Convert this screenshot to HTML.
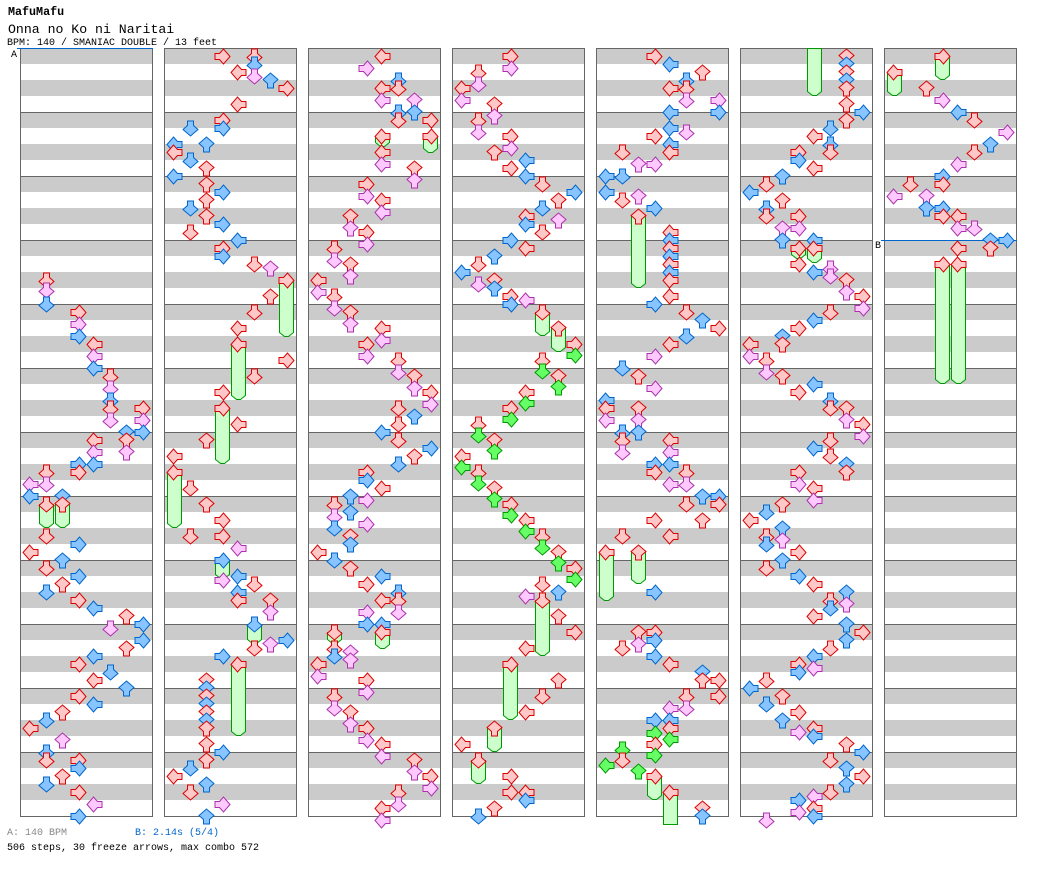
<!DOCTYPE html>
<html><head><meta charset="utf-8"><style>
html,body{margin:0;padding:0;background:#fff;}
svg{display:block;font-family:"Liberation Mono",monospace;}
.r{fill:#ffc8c8;stroke:#dd0000}
.b{fill:#88c4ff;stroke:#0066cc}
.p{fill:#ffc8ff;stroke:#aa33aa}
.g{fill:#66ff66;stroke:#009900}
.f{fill:#ccffcc;stroke:#009900;stroke-width:1}
use{stroke-width:1}
</style></head><body>
<svg width="1040" height="876" viewBox="0 0 1040 876" xmlns="http://www.w3.org/2000/svg">
<defs>
<polygon id="D" points="-3,-7.5 3,-7.5 3,-3 7.5,1 0,7.5 -7.5,1 -3,-3"/>
<polygon id="U" points="-3,7.5 3,7.5 3,3 7.5,-1 0,-7.5 -7.5,-1 -3,3"/>
<polygon id="R" points="-7.5,3 -7.5,-3 -3,-3 1,-7.5 7.5,0 1,7.5 -3,3"/>
<polygon id="L" points="7.5,3 7.5,-3 3,-3 -1,-7.5 -7.5,0 -1,7.5 3,3"/>
<g id="col">
<rect x="20.5" y="48.5" width="132" height="768" fill="#fff"/>
<g fill="#cbcbcb">
<rect x="21" y="48" width="131" height="16"/>
<rect x="21" y="80" width="131" height="16"/>
<rect x="21" y="112" width="131" height="16"/>
<rect x="21" y="144" width="131" height="16"/>
<rect x="21" y="176" width="131" height="16"/>
<rect x="21" y="208" width="131" height="16"/>
<rect x="21" y="240" width="131" height="16"/>
<rect x="21" y="272" width="131" height="16"/>
<rect x="21" y="304" width="131" height="16"/>
<rect x="21" y="336" width="131" height="16"/>
<rect x="21" y="368" width="131" height="16"/>
<rect x="21" y="400" width="131" height="16"/>
<rect x="21" y="432" width="131" height="16"/>
<rect x="21" y="464" width="131" height="16"/>
<rect x="21" y="496" width="131" height="16"/>
<rect x="21" y="528" width="131" height="16"/>
<rect x="21" y="560" width="131" height="16"/>
<rect x="21" y="592" width="131" height="16"/>
<rect x="21" y="624" width="131" height="16"/>
<rect x="21" y="656" width="131" height="16"/>
<rect x="21" y="688" width="131" height="16"/>
<rect x="21" y="720" width="131" height="16"/>
<rect x="21" y="752" width="131" height="16"/>
<rect x="21" y="784" width="131" height="16"/>
</g>
<path d="M21 112.5H152M21 176.5H152M21 240.5H152M21 304.5H152M21 368.5H152M21 432.5H152M21 496.5H152M21 560.5H152M21 624.5H152M21 688.5H152M21 752.5H152" stroke="#666" fill="none"/>
<rect x="20.5" y="48.5" width="132" height="768" fill="none" stroke="#666"/>
</g>
</defs>
<rect width="1040" height="876" fill="#fff"/>
<use href="#col"/><use href="#col" x="144"/><use href="#col" x="288"/><use href="#col" x="432"/><use href="#col" x="576"/><use href="#col" x="720"/><use href="#col" x="864"/>
<line x1="17" y1="48.5" x2="153" y2="48.5" stroke="#0066cc"/>
<line x1="881" y1="240.5" x2="1017" y2="240.5" stroke="#0066cc"/>

<text x="8" y="15" font-weight="bold" font-size="11.7">MafuMafu</text>
<text x="8" y="33" font-size="13.2">Onna no Ko ni Naritai</text>
<text x="7" y="45" font-size="10">BPM: 140 / SMANIAC DOUBLE / 13 feet</text>
<text x="11" y="57" font-size="10">A</text>
<text x="875" y="248" font-size="10">B</text>
<text x="7" y="835" font-size="10" fill="#888888">A: 140 BPM</text>
<text x="135" y="835" font-size="10" fill="#0066cc">B: 2.14s (5/4)</text>
<text x="7" y="850" font-size="10">506 steps, 30 freeze arrows, max combo 572</text>

<!-- Column 1 -->
<g transform="translate(0,0.5)">
<path class="f" d="M39.5 504V523L44.5 527H48.5L53.5 523V504Z"/>
<path class="f" d="M55.5 504V523L60.5 527H64.5L69.5 523V504Z"/>
<use href="#D" x="46.5" y="280" class="r"/>
<use href="#D" x="46.5" y="290" class="p"/>
<use href="#D" x="46.5" y="304" class="b"/>
<use href="#R" x="78.5" y="312" class="r"/>
<use href="#R" x="78.5" y="324" class="p"/>
<use href="#R" x="78.5" y="336" class="b"/>
<use href="#L" x="94.5" y="344" class="r"/>
<use href="#L" x="94.5" y="356" class="p"/>
<use href="#L" x="94.5" y="368" class="b"/>
<use href="#D" x="110.5" y="376" class="r"/>
<use href="#D" x="110.5" y="388" class="p"/>
<use href="#D" x="110.5" y="400" class="b"/>
<use href="#D" x="110.5" y="408" class="r"/>
<use href="#R" x="142.5" y="408" class="r"/>
<use href="#D" x="110.5" y="420" class="p"/>
<use href="#R" x="142.5" y="420" class="p"/>
<use href="#R" x="142.5" y="432" class="b"/>
<use href="#U" x="126.5" y="432" class="b"/>
<use href="#U" x="126.5" y="440" class="r"/>
<use href="#L" x="94.5" y="440" class="r"/>
<use href="#U" x="126.5" y="452" class="p"/>
<use href="#L" x="94.5" y="452" class="p"/>
<use href="#L" x="94.5" y="464" class="b"/>
<use href="#R" x="78.5" y="464" class="b"/>
<use href="#R" x="78.5" y="472" class="r"/>
<use href="#D" x="46.5" y="472" class="r"/>
<use href="#D" x="46.5" y="484" class="p"/>
<use href="#L" x="30.5" y="484" class="p"/>
<use href="#L" x="30.5" y="496" class="b"/>
<use href="#U" x="62.5" y="496" class="b"/>
<use href="#D" x="46.5" y="504" class="r"/>
<use href="#U" x="62.5" y="504" class="r"/>
<use href="#D" x="46.5" y="536" class="r"/>
<use href="#R" x="78.5" y="544" class="b"/>
<use href="#L" x="30.5" y="552" class="r"/>
<use href="#U" x="62.5" y="560" class="b"/>
<use href="#D" x="46.5" y="568" class="r"/>
<use href="#R" x="78.5" y="576" class="b"/>
<use href="#U" x="62.5" y="584" class="r"/>
<use href="#D" x="46.5" y="592" class="b"/>
<use href="#R" x="78.5" y="600" class="r"/>
<use href="#L" x="94.5" y="608" class="b"/>
<use href="#U" x="126.5" y="616" class="r"/>
<use href="#R" x="142.5" y="624" class="b"/>
<use href="#D" x="110.5" y="628" class="p"/>
<use href="#R" x="142.5" y="640" class="b"/>
<use href="#U" x="126.5" y="648" class="r"/>
<use href="#L" x="94.5" y="656" class="b"/>
<use href="#R" x="78.5" y="664" class="r"/>
<use href="#D" x="110.5" y="672" class="b"/>
<use href="#L" x="94.5" y="680" class="r"/>
<use href="#U" x="126.5" y="688" class="b"/>
<use href="#R" x="78.5" y="696" class="r"/>
<use href="#L" x="94.5" y="704" class="b"/>
<use href="#U" x="62.5" y="712" class="r"/>
<use href="#D" x="46.5" y="720" class="b"/>
<use href="#L" x="30.5" y="728" class="r"/>
<use href="#U" x="62.5" y="740" class="p"/>
<use href="#D" x="46.5" y="752" class="b"/>
<use href="#D" x="46.5" y="760" class="r"/>
<use href="#R" x="78.5" y="760" class="r"/>
<use href="#R" x="78.5" y="768" class="b"/>
<use href="#U" x="62.5" y="776" class="r"/>
<use href="#D" x="46.5" y="784" class="b"/>
<use href="#R" x="78.5" y="792" class="r"/>
<use href="#L" x="94.5" y="804" class="p"/>
<use href="#R" x="78.5" y="816" class="b"/>
</g>

<!-- Column 2 -->
<g transform="translate(144,0.5)">
<path class="f" d="M135.5 280V332L140.5 336H144.5L149.5 332V280Z"/>
<path class="f" d="M87.5 344V395L92.5 399H96.5L101.5 395V344Z"/>
<path class="f" d="M71.5 408V459L76.5 463H80.5L85.5 459V408Z"/>
<path class="f" d="M23.5 472V523L28.5 527H32.5L37.5 523V472Z"/>
<path class="f" d="M71.5 560V574L76.5 578H80.5L85.5 574V560Z"/>
<path class="f" d="M103.5 624V639L108.5 643H112.5L117.5 639V624Z"/>
<path class="f" d="M87.5 664V731L92.5 735H96.5L101.5 731V664Z"/>
<use href="#R" x="78.5" y="56" class="r"/>
<use href="#D" x="110.5" y="56" class="r"/>
<use href="#D" x="110.5" y="64" class="b"/>
<use href="#L" x="94.5" y="72" class="r"/>
<use href="#D" x="110.5" y="76" class="p"/>
<use href="#U" x="126.5" y="80" class="b"/>
<use href="#R" x="142.5" y="88" class="r"/>
<use href="#L" x="94.5" y="104" class="r"/>
<use href="#R" x="78.5" y="120" class="r"/>
<use href="#R" x="78.5" y="128" class="b"/>
<use href="#D" x="46.5" y="128" class="b"/>
<use href="#L" x="30.5" y="144" class="b"/>
<use href="#U" x="62.5" y="144" class="b"/>
<use href="#L" x="30.5" y="152" class="r"/>
<use href="#D" x="46.5" y="160" class="b"/>
<use href="#U" x="62.5" y="168" class="r"/>
<use href="#L" x="30.5" y="176" class="b"/>
<use href="#U" x="62.5" y="184" class="r"/>
<use href="#R" x="78.5" y="192" class="b"/>
<use href="#U" x="62.5" y="200" class="r"/>
<use href="#D" x="46.5" y="208" class="b"/>
<use href="#U" x="62.5" y="216" class="r"/>
<use href="#R" x="78.5" y="224" class="b"/>
<use href="#D" x="46.5" y="232" class="r"/>
<use href="#L" x="94.5" y="240" class="b"/>
<use href="#R" x="78.5" y="248" class="r"/>
<use href="#R" x="78.5" y="256" class="b"/>
<use href="#D" x="110.5" y="264" class="r"/>
<use href="#U" x="126.5" y="268" class="p"/>
<use href="#R" x="142.5" y="280" class="r"/>
<use href="#U" x="126.5" y="296" class="r"/>
<use href="#D" x="110.5" y="312" class="r"/>
<use href="#L" x="94.5" y="328" class="r"/>
<use href="#L" x="94.5" y="344" class="r"/>
<use href="#R" x="142.5" y="360" class="r"/>
<use href="#D" x="110.5" y="376" class="r"/>
<use href="#R" x="78.5" y="392" class="r"/>
<use href="#R" x="78.5" y="408" class="r"/>
<use href="#L" x="94.5" y="424" class="r"/>
<use href="#U" x="62.5" y="440" class="r"/>
<use href="#L" x="30.5" y="456" class="r"/>
<use href="#L" x="30.5" y="472" class="r"/>
<use href="#D" x="46.5" y="488" class="r"/>
<use href="#U" x="62.5" y="504" class="r"/>
<use href="#R" x="78.5" y="520" class="r"/>
<use href="#D" x="46.5" y="536" class="r"/>
<use href="#R" x="78.5" y="536" class="r"/>
<use href="#L" x="94.5" y="548" class="p"/>
<use href="#R" x="78.5" y="560" class="b"/>
<use href="#L" x="94.5" y="576" class="b"/>
<use href="#R" x="78.5" y="580" class="p"/>
<use href="#D" x="110.5" y="584" class="r"/>
<use href="#L" x="94.5" y="592" class="b"/>
<use href="#L" x="94.5" y="600" class="r"/>
<use href="#U" x="126.5" y="600" class="r"/>
<use href="#U" x="126.5" y="612" class="p"/>
<use href="#D" x="110.5" y="624" class="b"/>
<use href="#R" x="142.5" y="640" class="b"/>
<use href="#U" x="126.5" y="644" class="p"/>
<use href="#D" x="110.5" y="648" class="r"/>
<use href="#R" x="78.5" y="656" class="b"/>
<use href="#L" x="94.5" y="664" class="r"/>
<use href="#U" x="62.5" y="680" class="r"/>
<use href="#U" x="62.5" y="688" class="b"/>
<use href="#U" x="62.5" y="696" class="r"/>
<use href="#U" x="62.5" y="704" class="b"/>
<use href="#U" x="62.5" y="712" class="r"/>
<use href="#U" x="62.5" y="720" class="b"/>
<use href="#U" x="62.5" y="728" class="r"/>
<use href="#U" x="62.5" y="744" class="r"/>
<use href="#R" x="78.5" y="752" class="b"/>
<use href="#U" x="62.5" y="760" class="r"/>
<use href="#D" x="46.5" y="768" class="b"/>
<use href="#L" x="30.5" y="776" class="r"/>
<use href="#U" x="62.5" y="784" class="b"/>
<use href="#D" x="46.5" y="792" class="r"/>
<use href="#R" x="78.5" y="804" class="p"/>
<use href="#U" x="62.5" y="816" class="b"/>
</g>

<!-- Column 3 -->
<g transform="translate(288,0.5)">
<path class="f" d="M87.5 136V142L92.5 146H96.5L101.5 142V136Z"/>
<path class="f" d="M135.5 136V148L140.5 152H144.5L149.5 148V136Z"/>
<path class="f" d="M87.5 632V644L92.5 648H96.5L101.5 644V632Z"/>
<path class="f" d="M39.5 632V639L44.5 643H48.5L53.5 639V632Z"/>
<use href="#L" x="94.5" y="56" class="r"/>
<use href="#R" x="78.5" y="68" class="p"/>
<use href="#D" x="110.5" y="80" class="b"/>
<use href="#D" x="110.5" y="88" class="r"/>
<use href="#L" x="94.5" y="88" class="r"/>
<use href="#L" x="94.5" y="100" class="p"/>
<use href="#U" x="126.5" y="100" class="p"/>
<use href="#D" x="110.5" y="112" class="b"/>
<use href="#U" x="126.5" y="112" class="b"/>
<use href="#D" x="110.5" y="120" class="r"/>
<use href="#R" x="142.5" y="120" class="r"/>
<use href="#L" x="94.5" y="136" class="r"/>
<use href="#R" x="142.5" y="136" class="r"/>
<use href="#L" x="94.5" y="152" class="r"/>
<use href="#L" x="94.5" y="164" class="p"/>
<use href="#U" x="126.5" y="168" class="r"/>
<use href="#U" x="126.5" y="180" class="p"/>
<use href="#R" x="78.5" y="184" class="r"/>
<use href="#R" x="78.5" y="196" class="p"/>
<use href="#L" x="94.5" y="200" class="r"/>
<use href="#L" x="94.5" y="212" class="p"/>
<use href="#U" x="62.5" y="216" class="r"/>
<use href="#U" x="62.5" y="228" class="p"/>
<use href="#R" x="78.5" y="232" class="r"/>
<use href="#R" x="78.5" y="244" class="p"/>
<use href="#D" x="46.5" y="248" class="r"/>
<use href="#D" x="46.5" y="260" class="p"/>
<use href="#U" x="62.5" y="264" class="r"/>
<use href="#U" x="62.5" y="276" class="p"/>
<use href="#L" x="30.5" y="280" class="r"/>
<use href="#L" x="30.5" y="292" class="p"/>
<use href="#D" x="46.5" y="296" class="r"/>
<use href="#D" x="46.5" y="308" class="p"/>
<use href="#U" x="62.5" y="312" class="r"/>
<use href="#U" x="62.5" y="324" class="p"/>
<use href="#L" x="94.5" y="328" class="r"/>
<use href="#L" x="94.5" y="340" class="p"/>
<use href="#R" x="78.5" y="344" class="r"/>
<use href="#R" x="78.5" y="356" class="p"/>
<use href="#D" x="110.5" y="360" class="r"/>
<use href="#D" x="110.5" y="372" class="p"/>
<use href="#U" x="126.5" y="376" class="r"/>
<use href="#U" x="126.5" y="388" class="p"/>
<use href="#R" x="142.5" y="392" class="r"/>
<use href="#R" x="142.5" y="404" class="p"/>
<use href="#D" x="110.5" y="408" class="r"/>
<use href="#U" x="126.5" y="416" class="b"/>
<use href="#D" x="110.5" y="424" class="r"/>
<use href="#L" x="94.5" y="432" class="b"/>
<use href="#D" x="110.5" y="440" class="r"/>
<use href="#R" x="142.5" y="448" class="b"/>
<use href="#U" x="126.5" y="456" class="r"/>
<use href="#D" x="110.5" y="464" class="b"/>
<use href="#R" x="78.5" y="472" class="r"/>
<use href="#R" x="78.5" y="480" class="b"/>
<use href="#L" x="94.5" y="488" class="r"/>
<use href="#U" x="62.5" y="496" class="b"/>
<use href="#R" x="78.5" y="500" class="p"/>
<use href="#D" x="46.5" y="504" class="r"/>
<use href="#U" x="62.5" y="512" class="b"/>
<use href="#D" x="46.5" y="516" class="p"/>
<use href="#R" x="78.5" y="524" class="p"/>
<use href="#D" x="46.5" y="528" class="b"/>
<use href="#U" x="62.5" y="536" class="r"/>
<use href="#U" x="62.5" y="544" class="b"/>
<use href="#L" x="30.5" y="552" class="r"/>
<use href="#D" x="46.5" y="560" class="b"/>
<use href="#U" x="62.5" y="568" class="r"/>
<use href="#L" x="94.5" y="576" class="b"/>
<use href="#R" x="78.5" y="584" class="r"/>
<use href="#D" x="110.5" y="592" class="b"/>
<use href="#L" x="94.5" y="600" class="r"/>
<use href="#D" x="110.5" y="600" class="r"/>
<use href="#R" x="78.5" y="612" class="p"/>
<use href="#D" x="110.5" y="612" class="p"/>
<use href="#R" x="78.5" y="624" class="b"/>
<use href="#L" x="94.5" y="624" class="b"/>
<use href="#L" x="94.5" y="632" class="r"/>
<use href="#D" x="46.5" y="632" class="r"/>
<use href="#D" x="46.5" y="648" class="r"/>
<use href="#U" x="62.5" y="652" class="p"/>
<use href="#D" x="46.5" y="656" class="b"/>
<use href="#U" x="62.5" y="660" class="p"/>
<use href="#L" x="30.5" y="664" class="r"/>
<use href="#L" x="30.5" y="676" class="p"/>
<use href="#R" x="78.5" y="680" class="r"/>
<use href="#R" x="78.5" y="692" class="p"/>
<use href="#D" x="46.5" y="696" class="r"/>
<use href="#D" x="46.5" y="708" class="p"/>
<use href="#U" x="62.5" y="712" class="r"/>
<use href="#U" x="62.5" y="724" class="p"/>
<use href="#R" x="78.5" y="728" class="r"/>
<use href="#R" x="78.5" y="740" class="p"/>
<use href="#L" x="94.5" y="744" class="r"/>
<use href="#L" x="94.5" y="756" class="p"/>
<use href="#U" x="126.5" y="760" class="r"/>
<use href="#U" x="126.5" y="772" class="p"/>
<use href="#R" x="142.5" y="776" class="r"/>
<use href="#R" x="142.5" y="788" class="p"/>
<use href="#D" x="110.5" y="792" class="r"/>
<use href="#D" x="110.5" y="804" class="p"/>
<use href="#L" x="94.5" y="808" class="r"/>
<use href="#L" x="94.5" y="820" class="p"/>
</g>

<!-- Column 4 -->
<g transform="translate(432,0.5)">
<path class="f" d="M103.5 312V331L108.5 335H112.5L117.5 331V312Z"/>
<path class="f" d="M119.5 328V347L124.5 351H128.5L133.5 347V328Z"/>
<path class="f" d="M103.5 600V651L108.5 655H112.5L117.5 651V600Z"/>
<path class="f" d="M71.5 664V715L76.5 719H80.5L85.5 715V664Z"/>
<path class="f" d="M55.5 728V747L60.5 751H64.5L69.5 747V728Z"/>
<path class="f" d="M39.5 760V779L44.5 783H48.5L53.5 779V760Z"/>
<use href="#R" x="78.5" y="56" class="r"/>
<use href="#R" x="78.5" y="68" class="p"/>
<use href="#D" x="46.5" y="72" class="r"/>
<use href="#D" x="46.5" y="84" class="p"/>
<use href="#L" x="30.5" y="88" class="r"/>
<use href="#L" x="30.5" y="100" class="p"/>
<use href="#U" x="62.5" y="104" class="r"/>
<use href="#U" x="62.5" y="116" class="p"/>
<use href="#D" x="46.5" y="120" class="r"/>
<use href="#D" x="46.5" y="132" class="p"/>
<use href="#R" x="78.5" y="136" class="r"/>
<use href="#R" x="78.5" y="148" class="p"/>
<use href="#U" x="62.5" y="152" class="r"/>
<use href="#L" x="94.5" y="160" class="b"/>
<use href="#R" x="78.5" y="168" class="r"/>
<use href="#L" x="94.5" y="176" class="b"/>
<use href="#D" x="110.5" y="184" class="r"/>
<use href="#R" x="142.5" y="192" class="b"/>
<use href="#U" x="126.5" y="200" class="r"/>
<use href="#D" x="110.5" y="208" class="b"/>
<use href="#L" x="94.5" y="216" class="r"/>
<use href="#U" x="126.5" y="220" class="p"/>
<use href="#L" x="94.5" y="224" class="b"/>
<use href="#D" x="110.5" y="232" class="r"/>
<use href="#R" x="78.5" y="240" class="b"/>
<use href="#L" x="94.5" y="248" class="r"/>
<use href="#U" x="62.5" y="256" class="b"/>
<use href="#D" x="46.5" y="264" class="r"/>
<use href="#L" x="30.5" y="272" class="b"/>
<use href="#U" x="62.5" y="280" class="r"/>
<use href="#D" x="46.5" y="284" class="p"/>
<use href="#U" x="62.5" y="288" class="b"/>
<use href="#R" x="78.5" y="296" class="r"/>
<use href="#L" x="94.5" y="300" class="p"/>
<use href="#R" x="78.5" y="304" class="b"/>
<use href="#D" x="110.5" y="312" class="r"/>
<use href="#U" x="126.5" y="328" class="r"/>
<use href="#R" x="142.5" y="344" class="r"/>
<use href="#R" x="142.5" y="355" class="g"/>
<use href="#D" x="110.5" y="360" class="r"/>
<use href="#D" x="110.5" y="371" class="g"/>
<use href="#U" x="126.5" y="376" class="r"/>
<use href="#U" x="126.5" y="387" class="g"/>
<use href="#L" x="94.5" y="392" class="r"/>
<use href="#L" x="94.5" y="403" class="g"/>
<use href="#R" x="78.5" y="408" class="r"/>
<use href="#R" x="78.5" y="419" class="g"/>
<use href="#D" x="46.5" y="424" class="r"/>
<use href="#D" x="46.5" y="435" class="g"/>
<use href="#U" x="62.5" y="440" class="r"/>
<use href="#U" x="62.5" y="451" class="g"/>
<use href="#L" x="30.5" y="456" class="r"/>
<use href="#L" x="30.5" y="467" class="g"/>
<use href="#D" x="46.5" y="472" class="r"/>
<use href="#D" x="46.5" y="483" class="g"/>
<use href="#U" x="62.5" y="488" class="r"/>
<use href="#U" x="62.5" y="499" class="g"/>
<use href="#R" x="78.5" y="504" class="r"/>
<use href="#R" x="78.5" y="515" class="g"/>
<use href="#L" x="94.5" y="520" class="r"/>
<use href="#L" x="94.5" y="531" class="g"/>
<use href="#D" x="110.5" y="536" class="r"/>
<use href="#D" x="110.5" y="547" class="g"/>
<use href="#U" x="126.5" y="552" class="r"/>
<use href="#U" x="126.5" y="563" class="g"/>
<use href="#R" x="142.5" y="568" class="r"/>
<use href="#R" x="142.5" y="579" class="g"/>
<use href="#D" x="110.5" y="584" class="r"/>
<use href="#U" x="126.5" y="592" class="b"/>
<use href="#L" x="94.5" y="596" class="p"/>
<use href="#D" x="110.5" y="600" class="r"/>
<use href="#U" x="126.5" y="616" class="r"/>
<use href="#R" x="142.5" y="632" class="r"/>
<use href="#L" x="94.5" y="648" class="r"/>
<use href="#R" x="78.5" y="664" class="r"/>
<use href="#U" x="126.5" y="680" class="r"/>
<use href="#D" x="110.5" y="696" class="r"/>
<use href="#L" x="94.5" y="712" class="r"/>
<use href="#U" x="62.5" y="728" class="r"/>
<use href="#L" x="30.5" y="744" class="r"/>
<use href="#D" x="46.5" y="760" class="r"/>
<use href="#R" x="78.5" y="776" class="r"/>
<use href="#R" x="78.5" y="792" class="r"/>
<use href="#L" x="94.5" y="792" class="r"/>
<use href="#L" x="94.5" y="800" class="b"/>
<use href="#U" x="62.5" y="808" class="r"/>
<use href="#D" x="46.5" y="816" class="b"/>
</g>

<!-- Column 5 -->
<g transform="translate(576,0.5)">
<path class="f" d="M55.5 216V283L60.5 287H64.5L69.5 283V216Z"/>
<path class="f" d="M23.5 552V596L28.5 600H32.5L37.5 596V552Z"/>
<path class="f" d="M55.5 552V579L60.5 583H64.5L69.5 579V552Z"/>
<path class="f" d="M71.5 776V795L76.5 799H80.5L85.5 795V776Z"/>
<path class="f" d="M87.5 792V824H101.5V792Z"/>
<use href="#R" x="78.5" y="56" class="r"/>
<use href="#L" x="94.5" y="64" class="b"/>
<use href="#U" x="126.5" y="72" class="r"/>
<use href="#D" x="110.5" y="80" class="b"/>
<use href="#D" x="110.5" y="88" class="r"/>
<use href="#L" x="94.5" y="88" class="r"/>
<use href="#D" x="110.5" y="100" class="p"/>
<use href="#R" x="142.5" y="100" class="p"/>
<use href="#L" x="94.5" y="112" class="b"/>
<use href="#R" x="142.5" y="112" class="b"/>
<use href="#L" x="94.5" y="128" class="b"/>
<use href="#D" x="110.5" y="132" class="p"/>
<use href="#R" x="78.5" y="136" class="r"/>
<use href="#L" x="94.5" y="144" class="b"/>
<use href="#L" x="94.5" y="152" class="r"/>
<use href="#D" x="46.5" y="152" class="r"/>
<use href="#U" x="62.5" y="164" class="p"/>
<use href="#R" x="78.5" y="164" class="p"/>
<use href="#L" x="30.5" y="176" class="b"/>
<use href="#D" x="46.5" y="176" class="b"/>
<use href="#L" x="30.5" y="192" class="b"/>
<use href="#U" x="62.5" y="196" class="p"/>
<use href="#D" x="46.5" y="200" class="r"/>
<use href="#R" x="78.5" y="208" class="b"/>
<use href="#U" x="62.5" y="216" class="r"/>
<use href="#L" x="94.5" y="232" class="r"/>
<use href="#L" x="94.5" y="240" class="b"/>
<use href="#L" x="94.5" y="248" class="r"/>
<use href="#L" x="94.5" y="256" class="b"/>
<use href="#L" x="94.5" y="264" class="r"/>
<use href="#L" x="94.5" y="272" class="b"/>
<use href="#L" x="94.5" y="280" class="r"/>
<use href="#L" x="94.5" y="296" class="r"/>
<use href="#R" x="78.5" y="304" class="b"/>
<use href="#D" x="110.5" y="312" class="r"/>
<use href="#U" x="126.5" y="320" class="b"/>
<use href="#R" x="142.5" y="328" class="r"/>
<use href="#D" x="110.5" y="336" class="b"/>
<use href="#L" x="94.5" y="344" class="r"/>
<use href="#R" x="78.5" y="356" class="p"/>
<use href="#D" x="46.5" y="368" class="b"/>
<use href="#U" x="62.5" y="376" class="r"/>
<use href="#R" x="78.5" y="388" class="p"/>
<use href="#L" x="30.5" y="400" class="b"/>
<use href="#L" x="30.5" y="408" class="r"/>
<use href="#U" x="62.5" y="408" class="r"/>
<use href="#L" x="30.5" y="420" class="p"/>
<use href="#U" x="62.5" y="420" class="p"/>
<use href="#D" x="46.5" y="432" class="b"/>
<use href="#U" x="62.5" y="432" class="b"/>
<use href="#D" x="46.5" y="440" class="r"/>
<use href="#L" x="94.5" y="440" class="r"/>
<use href="#D" x="46.5" y="452" class="p"/>
<use href="#L" x="94.5" y="452" class="p"/>
<use href="#R" x="78.5" y="464" class="b"/>
<use href="#L" x="94.5" y="464" class="b"/>
<use href="#R" x="78.5" y="472" class="r"/>
<use href="#D" x="110.5" y="472" class="r"/>
<use href="#L" x="94.5" y="484" class="p"/>
<use href="#D" x="110.5" y="484" class="p"/>
<use href="#U" x="126.5" y="496" class="b"/>
<use href="#R" x="142.5" y="496" class="b"/>
<use href="#D" x="110.5" y="504" class="r"/>
<use href="#R" x="142.5" y="504" class="r"/>
<use href="#R" x="78.5" y="520" class="r"/>
<use href="#U" x="126.5" y="520" class="r"/>
<use href="#D" x="46.5" y="536" class="r"/>
<use href="#L" x="94.5" y="536" class="r"/>
<use href="#L" x="30.5" y="552" class="r"/>
<use href="#U" x="62.5" y="552" class="r"/>
<use href="#R" x="78.5" y="592" class="b"/>
<use href="#U" x="62.5" y="632" class="r"/>
<use href="#R" x="78.5" y="632" class="r"/>
<use href="#R" x="78.5" y="640" class="b"/>
<use href="#U" x="62.5" y="644" class="p"/>
<use href="#D" x="46.5" y="648" class="r"/>
<use href="#R" x="78.5" y="656" class="b"/>
<use href="#L" x="94.5" y="664" class="r"/>
<use href="#U" x="126.5" y="672" class="b"/>
<use href="#U" x="126.5" y="680" class="r"/>
<use href="#R" x="142.5" y="680" class="r"/>
<use href="#D" x="110.5" y="696" class="r"/>
<use href="#R" x="142.5" y="696" class="r"/>
<use href="#L" x="94.5" y="708" class="p"/>
<use href="#D" x="110.5" y="708" class="p"/>
<use href="#R" x="78.5" y="720" class="b"/>
<use href="#L" x="94.5" y="720" class="b"/>
<use href="#L" x="94.5" y="728" class="r"/>
<use href="#R" x="78.5" y="733" class="g"/>
<use href="#L" x="94.5" y="739" class="g"/>
<use href="#R" x="78.5" y="744" class="r"/>
<use href="#D" x="46.5" y="749" class="g"/>
<use href="#R" x="78.5" y="755" class="g"/>
<use href="#D" x="46.5" y="760" class="r"/>
<use href="#L" x="30.5" y="765" class="g"/>
<use href="#U" x="62.5" y="771" class="g"/>
<use href="#R" x="78.5" y="776" class="r"/>
<use href="#L" x="94.5" y="792" class="r"/>
<use href="#U" x="126.5" y="808" class="r"/>
<use href="#U" x="126.5" y="816" class="b"/>
</g>

<!-- Column 6 -->
<g transform="translate(720,0.5)">
<path class="f" d="M87.5 48V91L92.5 95H96.5L101.5 91V48Z"/>
<path class="f" d="M71.5 248V254L76.5 258H80.5L85.5 254V248Z"/>
<path class="f" d="M87.5 248V258L92.5 262H96.5L101.5 258V248Z"/>
<use href="#U" x="126.5" y="56" class="r"/>
<use href="#U" x="126.5" y="64" class="b"/>
<use href="#U" x="126.5" y="72" class="r"/>
<use href="#U" x="126.5" y="80" class="b"/>
<use href="#U" x="126.5" y="88" class="r"/>
<use href="#U" x="126.5" y="104" class="r"/>
<use href="#R" x="142.5" y="112" class="b"/>
<use href="#U" x="126.5" y="120" class="r"/>
<use href="#D" x="110.5" y="128" class="b"/>
<use href="#L" x="94.5" y="136" class="r"/>
<use href="#D" x="110.5" y="144" class="b"/>
<use href="#D" x="110.5" y="152" class="r"/>
<use href="#R" x="78.5" y="152" class="r"/>
<use href="#R" x="78.5" y="160" class="b"/>
<use href="#L" x="94.5" y="168" class="r"/>
<use href="#U" x="62.5" y="176" class="b"/>
<use href="#D" x="46.5" y="184" class="r"/>
<use href="#L" x="30.5" y="192" class="b"/>
<use href="#U" x="62.5" y="200" class="r"/>
<use href="#D" x="46.5" y="208" class="b"/>
<use href="#D" x="46.5" y="216" class="r"/>
<use href="#R" x="78.5" y="216" class="r"/>
<use href="#U" x="62.5" y="228" class="p"/>
<use href="#R" x="78.5" y="228" class="p"/>
<use href="#U" x="62.5" y="240" class="b"/>
<use href="#L" x="94.5" y="240" class="b"/>
<use href="#R" x="78.5" y="248" class="r"/>
<use href="#L" x="94.5" y="248" class="r"/>
<use href="#R" x="78.5" y="264" class="r"/>
<use href="#D" x="110.5" y="268" class="p"/>
<use href="#L" x="94.5" y="272" class="b"/>
<use href="#D" x="110.5" y="276" class="p"/>
<use href="#U" x="126.5" y="280" class="r"/>
<use href="#U" x="126.5" y="292" class="p"/>
<use href="#R" x="142.5" y="296" class="r"/>
<use href="#R" x="142.5" y="308" class="p"/>
<use href="#D" x="110.5" y="312" class="r"/>
<use href="#L" x="94.5" y="320" class="b"/>
<use href="#R" x="78.5" y="328" class="r"/>
<use href="#U" x="62.5" y="336" class="b"/>
<use href="#U" x="62.5" y="344" class="r"/>
<use href="#L" x="30.5" y="344" class="r"/>
<use href="#L" x="30.5" y="356" class="p"/>
<use href="#D" x="46.5" y="360" class="r"/>
<use href="#D" x="46.5" y="372" class="p"/>
<use href="#U" x="62.5" y="376" class="r"/>
<use href="#L" x="94.5" y="384" class="b"/>
<use href="#R" x="78.5" y="392" class="r"/>
<use href="#D" x="110.5" y="400" class="b"/>
<use href="#D" x="110.5" y="408" class="r"/>
<use href="#U" x="126.5" y="408" class="r"/>
<use href="#U" x="126.5" y="420" class="p"/>
<use href="#R" x="142.5" y="424" class="r"/>
<use href="#R" x="142.5" y="436" class="p"/>
<use href="#D" x="110.5" y="440" class="r"/>
<use href="#L" x="94.5" y="448" class="b"/>
<use href="#D" x="110.5" y="456" class="r"/>
<use href="#U" x="126.5" y="464" class="b"/>
<use href="#U" x="126.5" y="472" class="r"/>
<use href="#R" x="78.5" y="472" class="r"/>
<use href="#R" x="78.5" y="484" class="p"/>
<use href="#L" x="94.5" y="488" class="r"/>
<use href="#L" x="94.5" y="500" class="p"/>
<use href="#U" x="62.5" y="504" class="r"/>
<use href="#D" x="46.5" y="512" class="b"/>
<use href="#L" x="30.5" y="520" class="r"/>
<use href="#U" x="62.5" y="528" class="b"/>
<use href="#D" x="46.5" y="536" class="r"/>
<use href="#U" x="62.5" y="540" class="p"/>
<use href="#D" x="46.5" y="544" class="b"/>
<use href="#R" x="78.5" y="552" class="r"/>
<use href="#U" x="62.5" y="560" class="b"/>
<use href="#D" x="46.5" y="568" class="r"/>
<use href="#R" x="78.5" y="576" class="b"/>
<use href="#L" x="94.5" y="584" class="r"/>
<use href="#U" x="126.5" y="592" class="b"/>
<use href="#D" x="110.5" y="600" class="r"/>
<use href="#U" x="126.5" y="604" class="p"/>
<use href="#D" x="110.5" y="608" class="b"/>
<use href="#L" x="94.5" y="616" class="r"/>
<use href="#U" x="126.5" y="624" class="b"/>
<use href="#R" x="142.5" y="632" class="r"/>
<use href="#U" x="126.5" y="640" class="b"/>
<use href="#D" x="110.5" y="648" class="r"/>
<use href="#L" x="94.5" y="656" class="b"/>
<use href="#R" x="78.5" y="664" class="r"/>
<use href="#L" x="94.5" y="668" class="p"/>
<use href="#R" x="78.5" y="672" class="b"/>
<use href="#D" x="46.5" y="680" class="r"/>
<use href="#L" x="30.5" y="688" class="b"/>
<use href="#U" x="62.5" y="696" class="r"/>
<use href="#D" x="46.5" y="704" class="b"/>
<use href="#R" x="78.5" y="712" class="r"/>
<use href="#U" x="62.5" y="720" class="b"/>
<use href="#L" x="94.5" y="728" class="r"/>
<use href="#R" x="78.5" y="732" class="p"/>
<use href="#L" x="94.5" y="736" class="b"/>
<use href="#U" x="126.5" y="744" class="r"/>
<use href="#R" x="142.5" y="752" class="b"/>
<use href="#D" x="110.5" y="760" class="r"/>
<use href="#U" x="126.5" y="768" class="b"/>
<use href="#R" x="142.5" y="776" class="r"/>
<use href="#U" x="126.5" y="784" class="b"/>
<use href="#D" x="110.5" y="792" class="r"/>
<use href="#L" x="94.5" y="796" class="p"/>
<use href="#R" x="78.5" y="800" class="b"/>
<use href="#L" x="94.5" y="808" class="r"/>
<use href="#R" x="78.5" y="812" class="p"/>
<use href="#L" x="94.5" y="816" class="b"/>
<use href="#D" x="46.5" y="820" class="p"/>
</g>

<!-- Column 7 -->
<g transform="translate(864,0.5)">
<path class="f" d="M71.5 56V75L76.5 79H80.5L85.5 75V56Z"/>
<path class="f" d="M23.5 72V91L28.5 95H32.5L37.5 91V72Z"/>
<path class="f" d="M71.5 264V379L76.5 383H80.5L85.5 379V264Z"/>
<path class="f" d="M87.5 264V379L92.5 383H96.5L101.5 379V264Z"/>
<use href="#R" x="78.5" y="56" class="r"/>
<use href="#L" x="30.5" y="72" class="r"/>
<use href="#U" x="62.5" y="88" class="r"/>
<use href="#R" x="78.5" y="100" class="p"/>
<use href="#L" x="94.5" y="112" class="b"/>
<use href="#D" x="110.5" y="120" class="r"/>
<use href="#R" x="142.5" y="132" class="p"/>
<use href="#U" x="126.5" y="144" class="b"/>
<use href="#D" x="110.5" y="152" class="r"/>
<use href="#L" x="94.5" y="164" class="p"/>
<use href="#R" x="78.5" y="176" class="b"/>
<use href="#R" x="78.5" y="184" class="r"/>
<use href="#D" x="46.5" y="184" class="r"/>
<use href="#L" x="30.5" y="196" class="p"/>
<use href="#U" x="62.5" y="196" class="p"/>
<use href="#U" x="62.5" y="208" class="b"/>
<use href="#R" x="78.5" y="208" class="b"/>
<use href="#R" x="78.5" y="216" class="r"/>
<use href="#L" x="94.5" y="216" class="r"/>
<use href="#L" x="94.5" y="228" class="p"/>
<use href="#D" x="110.5" y="228" class="p"/>
<use href="#U" x="126.5" y="240" class="b"/>
<use href="#R" x="142.5" y="240" class="b"/>
<use href="#U" x="126.5" y="248" class="r"/>
<use href="#L" x="94.5" y="248" class="r"/>
<use href="#R" x="78.5" y="264" class="r"/>
<use href="#L" x="94.5" y="264" class="r"/>
</g>
</svg>
</body></html>
